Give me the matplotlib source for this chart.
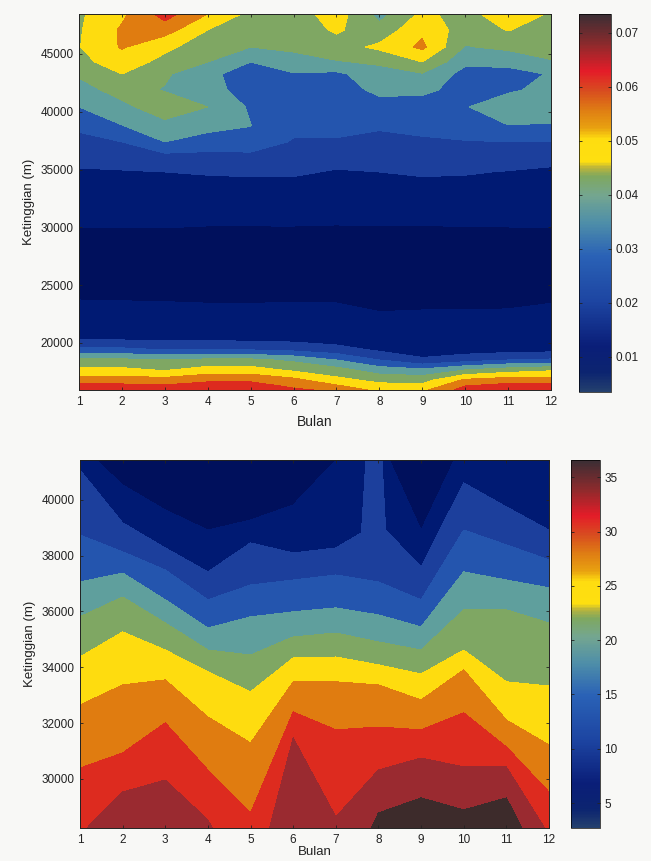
import numpy as np
import matplotlib
matplotlib.use("Agg")
import matplotlib.pyplot as plt
from matplotlib.colors import LinearSegmentedColormap, Normalize
from matplotlib.cm import ScalarMappable

plt.rcParams['font.family'] = ['Liberation Sans', 'DejaVu Sans']

months = [1, 2, 3, 4, 5, 6, 7, 8, 9, 10, 11, 12]

# Top panel: value on a month x altitude grid
top_alt = [48460, 47080, 45600, 44310, 43270, 41890, 40420, 38860, 37390, 36000, 34790,
           33240, 31940, 30210, 27180, 23720, 21990, 21130, 20260, 19400, 18530, 17670,
           16800, 16280, 15760]
top_values = [
    [.0445, .0510, .0625, .0525, .0436, .0420, .0490, .0360, .0470, .0430, .0500, .0448],
    [.0448, .0535, .0555, .0455, .0405, .0415, .0465, .0410, .0510, .0420, .0458, .0420],
    [.0452, .0532, .0470, .0420, .0385, .0395, .0425, .0470, .0540, .0380, .0400, .0410],
    [.0435, .0490, .0435, .0385, .0315, .0365, .0380, .0395, .0455, .0330, .0335, .0380],
    [.0395, .0455, .0395, .0335, .0275, .0310, .0300, .0360, .0380, .0290, .0290, .0320],
    [.0355, .0415, .0380, .0340, .0285, .0280, .0285, .0330, .0330, .0290, .0310, .0325],
    [.0315, .0365, .0430, .0385, .0305, .0275, .0275, .0290, .0285, .0313, .0335, .0340],
    [.0260, .0315, .0365, .0335, .0316, .0275, .0275, .0255, .0265, .0290, .0315, .0312],
    [.0225, .0245, .0315, .0290, .0305, .0235, .0235, .0225, .0235, .0240, .0245, .0242],
    [.0200, .0205, .0215, .0215, .0210, .0205, .0195, .0205, .0210, .0210, .0205, .0195],
    [.0165, .0170, .0175, .0180, .0183, .0183, .0170, .0175, .0183, .0180, .0172, .0163],
    [.0145, .0148, .0150, .0152, .0153, .0152, .0148, .0150, .0152, .0152, .0148, .0142],
    [.0125, .0125, .0125, .0125, .0125, .0124, .0122, .0123, .0124, .0124, .0123, .0120],
    [.0107, .0107, .0108, .0106, .0106, .0106, .0105, .0106, .0106, .0106, .0107, .0107],
    [.0075, .0073, .0072, .0070, .0072, .0074, .0075, .0073, .0072, .0074, .0073, .0075],
    [.0105, .0104, .0103, .0101, .0101, .0102, .0102, .0098, .0098, .0099, .0101, .0103],
    [.0128, .0128, .0127, .0126, .0126, .0124, .0122, .0110, .0112, .0111, .0110, .0115],
    [.0150, .0150, .0148, .0147, .0146, .0142, .0133, .0115, .0118, .0118, .0115, .0120],
    [.0175, .0175, .0170, .0170, .0165, .0160, .0145, .0125, .0125, .0125, .0125, .0128],
    [.0263, .0263, .0245, .0245, .0245, .0230, .0205, .0165, .0145, .0145, .0150, .0155],
    [.0399, .0399, .0391, .0401, .0401, .0371, .0315, .0245, .0185, .0215, .0245, .0255],
    [.0471, .0471, .0449, .0485, .0485, .0442, .0410, .0350, .0330, .0385, .0420, .0445],
    [.0555, .0555, .0551, .0578, .0578, .0544, .0475, .0435, .0427, .0535, .0560, .0555],
    [.0615, .0615, .0605, .0630, .0630, .0580, .0535, .0477, .0470, .0595, .0620, .0615],
    [.0660, .0660, .0660, .0670, .0670, .0620, .0595, .0525, .0525, .0640, .0660, .0660],
]
top_levels = [.0035, .0105, .0175, .0245, .0315, .0385, .0455, .0525, .0595, .0665, .0735]

# Bottom panel: altitude of each contour level, month by month
bot_levels = [2.7, 7.2, 10.3, 13.4, 16.5, 19.6, 22.7, 25.8, 28.9, 32.0, 35.1, 38.2]
iso_72 = [41970, 40540, 39640, 38920, 39280, 39820, 41430, 42300, 38920, 42150, 41790, 41430]
iso_103_months = [1, 2, 3, 4, 5, 6, 7, 7.6, 7.72, 8, 8.07, 8.17, 9, 10, 11, 12]
iso_103 = [41070, 39180, 38280, 37420, 38460, 38100, 38280, 38820, 41790, 42150, 41790, 38920,
           37600, 40610, 39750, 38920]
iso_134 = [38740, 38140, 37490, 36420, 36950, 37130, 37310, 37060, 36420, 38920, 38390, 37850]
iso_165 = [37060, 37380, 36420, 35410, 35810, 35990, 36130, 35880, 35450, 37420, 37130, 36850]
iso_196 = [35810, 36520, 35590, 34620, 34440, 35090, 35230, 34910, 34620, 36060, 36060, 35590]
iso_227 = [34370, 35270, 34620, 33840, 33120, 34340, 34370, 34090, 33760, 34620, 33480, 33330]
iso_258 = [32650, 33370, 33550, 32220, 31290, 33480, 33480, 33370, 32830, 33910, 32110, 31220]
iso_289 = [30390, 30930, 32010, 30320, 28780, 32400, 31760, 31860, 31760, 32370, 31150, 29530]
iso_320 = [27990, 29530, 29960, 28530, 25660, 31470, 28640, 30320, 30750, 30430, 30430, 27990]
iso_351 = [24950, 24950, 24950, 24950, 23870, 25660, 25660, 28780, 29320, 28890, 29320, 26380]
bot_alt_limits = [43000, 23000]

band_colors = ['#00105c', '#001a73', '#1c3f9c', '#2455ae', '#5f9f9d', '#7fa763',
               '#fedc0f', '#e07c10', '#dd2b1f', '#9a2a30', '#3d2b2b']
bar_stops = [(0, '#24406e'), (.05, '#0c2470'), (.12, '#0a1e78'), (.24, '#1d45a2'),
             (.36, '#2a62b6'), (.45, '#4f8fa8'), (.52, '#74a690'), (.57, '#7fa85f'),
             (.595, '#bcb53a'), (.61, '#fedf10'), (.67, '#fedd10'), (.70, '#e8a010'),
             (.75, '#de7a14'), (.80, '#d84a20'), (.85, '#e41c28'), (.92, '#8e2a2c'),
             (1, '#3a2e34')]
bar_cmap = LinearSegmentedColormap.from_list('bar', bar_stops, N=256)

W, H = 651, 861
BG = '#f8f8f6'
TXT = '#222222'
fig = plt.figure(figsize=(W / 100, H / 100), dpi=100, facecolor=BG)


def rect(x0, x1, y0, y1):
    return [x0 / W, 1 - y1 / H, (x1 - x0) / W, (y1 - y0) / H]


def style(ax, ylabel, xpad, xsize):
    ax.set_xticks(months)
    ax.tick_params(direction='in', length=2.5, width=0.6, labelsize=8.5, colors=TXT,
                   top=True, right=True, pad=4)
    ax.set_xlabel('Bulan', fontsize=xsize, color=TXT, labelpad=xpad)
    ax.set_ylabel(ylabel, fontsize=9.5, color=TXT, labelpad=4)
    for s in ax.spines.values():
        s.set_linewidth(0.7)
        s.set_color('#222222')


def bar(cax, vmin, vmax, ticks, labels):
    cb = fig.colorbar(ScalarMappable(Normalize(vmin, vmax), bar_cmap), cax=cax)
    cb.set_ticks(ticks)
    cb.set_ticklabels(labels)
    cb.outline.set_linewidth(0.5)
    cax.tick_params(direction='in', length=2, width=0.6, labelsize=8.5, colors=TXT,
                    left=True, right=True, pad=3)


# top panel
ax1 = fig.add_axes(rect(79, 551, 14, 390))
ax1.contourf(months, np.array(top_alt)[::-1], np.array(top_values)[::-1],
             levels=top_levels, colors=band_colors[:10])
ax1.set_xlim(1, 12)
ax1.set_ylim(15930, 48460)
ax1.set_yticks([20000, 25000, 30000, 35000, 40000, 45000])
style(ax1, 'Ketinggian (m)', 5, 10)
cax1 = fig.add_axes(rect(579, 611, 14, 392))
bar(cax1, .0035, .0735, [.01, .02, .03, .04, .05, .06, .07],
    ['0.01', '0.02', '0.03', '0.04', '0.05', '0.06', '0.07'])

# bottom panel: a grid whose rows follow the contour levels
columns = np.unique(np.concatenate([months, iso_103_months]))
lines = [iso_351, iso_320, iso_289, iso_258, iso_227, iso_196, iso_165, iso_134]
rows = [np.full(columns.shape, bot_alt_limits[1], dtype=float)]
rows += [np.interp(columns, months, ln) for ln in lines]
rows.append(np.interp(columns, iso_103_months, iso_103))
rows.append(np.interp(columns, months, iso_72))
rows.append(np.full(columns.shape, bot_alt_limits[0], dtype=float))
Y2 = np.array(rows)
X2 = np.tile(columns, (Y2.shape[0], 1))
Z2 = np.tile(np.array(bot_levels)[::-1][:, None], (1, len(columns)))
ax2 = fig.add_axes(rect(80, 549, 460, 828))
ax2.contourf(X2, Y2, Z2, levels=bot_levels, colors=band_colors)
ax2.set_xlim(1, 12)
ax2.set_ylim(28240, 41430)
ax2.set_yticks([30000, 32000, 34000, 36000, 38000, 40000])
style(ax2, 'Ketinggian (m)', 0, 9.5)
cax2 = fig.add_axes(rect(571, 600, 460, 828))
bar(cax2, 2.7, 36.6, [5, 10, 15, 20, 25, 30, 35], ['5', '10', '15', '20', '25', '30', '35'])

fig.savefig('out.png', dpi=100, facecolor=BG)
